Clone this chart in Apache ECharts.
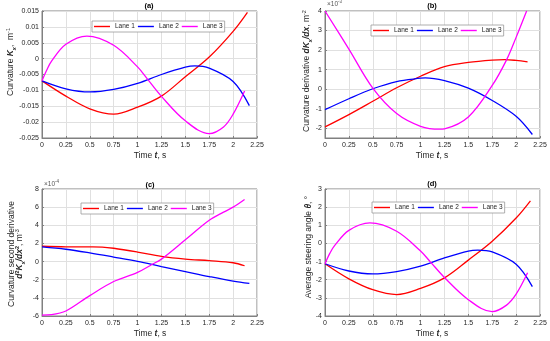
<!DOCTYPE html>
<html><head><meta charset="utf-8">
<script src="https://cdn.jsdelivr.net/npm/echarts@6/dist/echarts.min.js"></script>
<style>html,body{margin:0;padding:0;background:#fff}#c{width:550px;height:341px}</style>
</head><body><div id="c"></div>
<script>
// ---------- data ----------
const laneNames = ['Lane 1', 'Lane 2', 'Lane 3'];
const laneColors = ['#ff0000', '#0000ff', '#ff00ff'];
const panelTitles = ['(a)', '(b)', '(c)', '(d)'];

// (a) curvature K_x, 1/m
const tA1 = [0, 0.25, 0.5, 0.75, 1.0, 1.25, 1.5, 1.75, 2.0, 2.15];
const yA1 = [-0.007, -0.0118, -0.0158, -0.0175, -0.0153, -0.0118, -0.0057, 0.0005, 0.0086, 0.0146];
const tA2 = [0, 0.25, 0.5, 0.75, 1.0, 1.25, 1.5, 1.6, 1.75, 2.0, 2.17];
const yA2 = [-0.007, -0.0095, -0.0105, -0.0097, -0.0078, -0.0050, -0.0027, -0.0023, -0.0030, -0.0072, -0.0148];
const tA3 = [0, 0.05, 0.1, 0.25, 0.47, 0.75, 1.0, 1.1, 1.25, 1.5, 1.75, 1.9, 2.0, 2.12];
const yA3 = [-0.007, -0.0036, -0.0008, 0.0045, 0.0071, 0.0042, -0.0026, -0.0063, -0.0119, -0.0196, -0.0236, -0.0215, -0.0175, -0.0102];

// (b) curvature derivative, x10^-3 1/m^2
const tB1 = [0, 0.25, 0.5, 0.75, 1.0, 1.25, 1.5, 1.75, 1.88, 2.0, 2.12];
const yB1 = [-1.93, -1.3, -0.62, 0.07, 0.66, 1.15, 1.37, 1.49, 1.51, 1.47, 1.40];
const tB2 = [0, 0.25, 0.5, 0.75, 1.0, 1.05, 1.25, 1.5, 1.75, 2.0, 2.17];
const yB2 = [-1.05, -0.49, 0.02, 0.39, 0.56, 0.58, 0.44, 0.05, -0.58, -1.39, -2.32];
const tB3 = [0, 0.25, 0.5, 0.75, 1.0, 1.2, 1.25, 1.5, 1.75, 1.9, 2.0, 2.11];
const yB3 = [4.0, 2.05, 0.05, -1.25, -1.9, -2.05, -2.03, -1.42, 0.19, 1.5, 2.65, 4.0];

// (c) curvature second derivative, x10^-4 1/m^3
const tC1 = [0, 0.25, 0.5, 0.63, 0.75, 1.0, 1.25, 1.5, 1.75, 2.0, 2.12];
const yC1 = [1.69, 1.63, 1.62, 1.6, 1.47, 1.05, 0.58, 0.28, 0.1, -0.13, -0.46];
const tC2 = [0, 0.25, 0.5, 0.75, 1.0, 1.25, 1.5, 1.75, 2.0, 2.17];
const yC2 = [1.62, 1.36, 0.96, 0.5, 0.02, -0.55, -1.1, -1.65, -2.15, -2.4];
const tC3 = [0, 0.1, 0.25, 0.5, 0.75, 1.0, 1.15, 1.25, 1.5, 1.75, 1.9, 2.0, 2.12];
const yC3 = [-5.9, -5.85, -5.45, -3.75, -2.2, -1.19, -0.32, 0.27, 2.4, 4.55, 5.45, 6.0, 6.85];

// (d) average steering angle, deg
const tD1 = [0, 0.25, 0.5, 0.75, 1.0, 1.25, 1.5, 1.75, 2.0, 2.15];
const yD1 = [-1.12, -1.95, -2.55, -2.82, -2.48, -1.9, -0.92, 0.12, 1.4, 2.35];
const tD2 = [0, 0.25, 0.5, 0.75, 1.0, 1.25, 1.5, 1.6, 1.75, 2.0, 2.17];
const yD2 = [-1.12, -1.52, -1.68, -1.55, -1.25, -0.8, -0.42, -0.37, -0.47, -1.15, -2.38];
const tD3 = [0, 0.05, 0.1, 0.25, 0.47, 0.75, 1.0, 1.1, 1.25, 1.5, 1.75, 1.9, 2.0, 2.12];
const yD3 = [-1.12, -0.55, -0.12, 0.72, 1.13, 0.67, -0.42, -1.0, -1.88, -3.1, -3.76, -3.4, -2.8, -1.62];

// axis ranges
const xMin = 0, xMax = 2.25, xStep = 0.25;
const yRanges = [
  {min: -0.025, max: 0.015, interval: 0.005},
  {min: -2.5, max: 4, interval: null},
  {min: -6, max: 8, interval: 2},
  {min: -4, max: 3, interval: 1}
];

// ---------- build ----------
const FONT = 'Liberation Sans, Arial, Helvetica, sans-serif';
const TXT = '#262626';
const grids = [
  {left: 42, top: 11, width: 215, height: 127},
  {left: 325, top: 11, width: 215, height: 127},
  {left: 42, top: 189, width: 215, height: 127},
  {left: 325, top: 189, width: 215, height: 127}
];
const panels = [
  [[tA1, yA1], [tA2, yA2], [tA3, yA3]],
  [[tB1, yB1], [tB2, yB2], [tB3, yB3]],
  [[tC1, yC1], [tC2, yC2], [tC3, yC3]],
  [[tD1, yD1], [tD2, yD2], [tD3, yD3]]
];
const legendPos = [
  {left: 92, top: 21}, {left: 371, top: 25}, {left: 81, top: 203}, {left: 372, top: 202}
];

const zip = (t, y) => t.map((v, i) => [v, y[i]]);

const xAxis = grids.map((g, i) => ({
  type: 'value', gridIndex: i, min: xMin, max: xMax, interval: xStep,
  axisLine: {show: true, onZero: false, lineStyle: {color: '#808080', width: 1}},
  axisTick: {show: true, inside: true, length: 2, lineStyle: {color: '#808080'}},
  axisLabel: {fontSize: 7, color: TXT, fontFamily: FONT, margin: 4,
    formatter: v => String(+v.toFixed(2))},
  splitLine: {show: true, lineStyle: {color: '#e0e0e0', width: 1}}
}));
const yAxis = grids.map((g, i) => {
  const r = yRanges[i];
  const ax = {
    type: 'value', gridIndex: i, min: r.min, max: r.max,
    axisLine: {show: true, onZero: false, lineStyle: {color: '#808080', width: 1}},
    axisTick: {show: true, inside: true, length: 2, lineStyle: {color: '#808080'}},
    axisLabel: {fontSize: 7, color: TXT, fontFamily: FONT, margin: 3,
      formatter: v => String(+v.toFixed(3))},
    splitLine: {show: true, lineStyle: {color: '#e0e0e0', width: 1}}
  };
  if (r.interval) ax.interval = r.interval; else { ax.splitNumber = 6; ax.axisLabel.showMinLabel = false; }
  if (i === 1) ax.axisLabel.formatter = v => Number.isInteger(+v.toFixed(6)) ? String(+v.toFixed(0)) : '';
  return ax;
});

const series = [];
panels.forEach((p, i) => {
  p.forEach(([t, y], k) => {
    series.push({
      type: 'line', name: laneNames[k], xAxisIndex: i, yAxisIndex: i,
      data: zip(t, y), smooth: 0.35, symbol: 'none', showSymbol: false, clip: true,
      lineStyle: {color: laneColors[k], width: 1.3}, itemStyle: {color: laneColors[k]},
      emphasis: {disabled: true}, silent: true, animation: false
    });
  });
});

const legend = legendPos.map(lp => ({
  left: lp.left, top: lp.top, orient: 'horizontal',
  data: laneNames.map(n => ({name: n, icon: 'rect'})), itemWidth: 16, itemHeight: 1.4, itemGap: 3,
  padding: [2, 2], backgroundColor: '#fff', borderColor: '#9a9a9a', borderWidth: 0.8,
  textStyle: {fontSize: 6.5, color: TXT, fontFamily: FONT},
  selectedMode: false
}));

const rich = {
  n: {fontSize: 8.5, fontFamily: FONT, fill: TXT, color: TXT, lineHeight: 12},
  bi: {fontSize: 8.5, fontFamily: FONT, fontWeight: 'bold', fontStyle: 'italic', fill: TXT, color: TXT, lineHeight: 12},
  sup: {fontSize: 5.5, fontFamily: FONT, fill: TXT, color: TXT, verticalAlign: 'top', lineHeight: 12},
  bsup: {fontSize: 5.5, fontFamily: FONT, fontWeight: 'bold', fill: TXT, color: TXT, verticalAlign: 'top', lineHeight: 12},
  bsub: {fontSize: 5.5, fontFamily: FONT, fontWeight: 'bold', fontStyle: 'italic', fill: TXT, color: TXT, verticalAlign: 'bottom', lineHeight: 12},
  m: {fontSize: 6.5, fontFamily: FONT, fill: '#555', color: '#555', lineHeight: 9},
  ms: {fontSize: 4.5, fontFamily: FONT, fill: '#555', color: '#555', verticalAlign: 'top', lineHeight: 9}
};

function txt(x, y, text, rot) {
  return {
    type: 'text', x: x, y: y, rotation: rot || 0, silent: true,
    style: {text: text, rich: rich, align: 'center', verticalAlign: 'middle',
      fill: TXT, fontSize: 8.5, fontFamily: FONT}
  };
}

const graphic = [];
// titles
[[149, 6], [432, 6], [150, 185], [432, 184]].forEach((p, i) => {
  graphic.push({type: 'text', x: p[0], y: p[1], silent: true,
    style: {text: panelTitles[i], align: 'center', verticalAlign: 'middle', fill: '#000',
      fontSize: 7.5, fontWeight: 'bold', fontFamily: FONT}});
});
// x names
[[150, 156], [432, 156], [150, 334], [432, 334]].forEach(p => {
  graphic.push(txt(p[0], p[1], '{n|Time }{bi|t}{n|, s}'));
});
// y names
graphic.push(txt(11, 62, '{n|Curvature }{bi|K}{bsub|x}{n|,  m}{sup|-1}', Math.PI / 2));
graphic.push(txt(307, 71, '{n|Curvature derivative }{bi|dK}{bsub|x}{bi|/dx}{n|, m}{sup|-2}', Math.PI / 2));
graphic.push(txt(12, 254, '{n|Curvature second derivative}', Math.PI / 2));
graphic.push(txt(20, 254, '{bi|d}{bsup|2}{bi|K}{bsub|x}{bi|/dx}{bsup|2}{n|, m}{sup|-3}', Math.PI / 2));
graphic.push(txt(309, 247, '{n|Average steering angle }{bi|θ}{n|, °}', Math.PI / 2));
// multipliers
graphic.push({type: 'text', x: 327, y: 4, silent: true,
  style: {text: '{m|×10}{ms|-3}', rich: rich, align: 'left', verticalAlign: 'middle'}});
graphic.push({type: 'text', x: 44, y: 184, silent: true,
  style: {text: '{m|×10}{ms|-4}', rich: rich, align: 'left', verticalAlign: 'middle'}});

const chart = echarts.init(document.getElementById('c'), null, {renderer: 'canvas'});
chart.setOption({
  animation: false,
  backgroundColor: '#fff',
  grid: grids.map(g => Object.assign({show: true, borderColor: '#808080', borderWidth: 1, backgroundColor: '#fff'}, g)),
  xAxis: xAxis, yAxis: yAxis, series: series, legend: legend, graphic: graphic
});
</script></body></html>
